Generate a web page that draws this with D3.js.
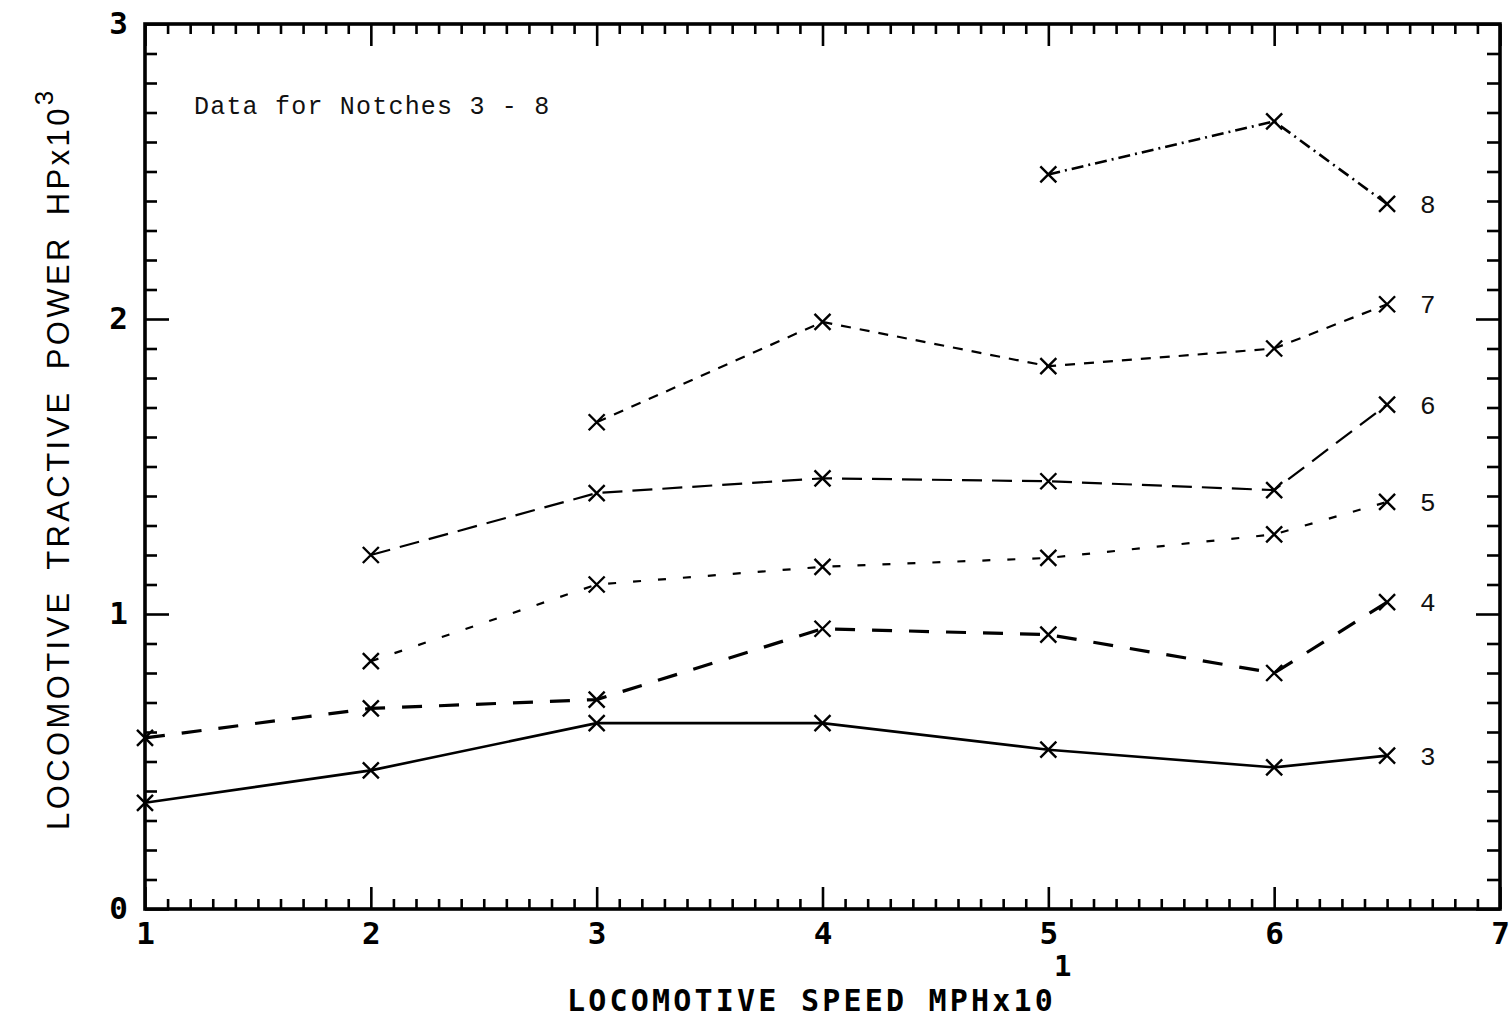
<!DOCTYPE html>
<html>
<head>
<meta charset="utf-8">
<script src="https://cdn.jsdelivr.net/npm/d3@7.9.0/dist/d3.min.js"></script>
<style>
  body { margin: 0; background: #fff; }
  svg { display: block; }
  .plotter { font-family: "DejaVu Sans Mono", monospace; font-weight: bold; fill: #000; }
  .typed { font-family: "Liberation Mono", "Courier New", monospace; fill: #111; }
</style>
</head>
<body>
<svg id="chart" width="1512" height="1021"></svg>
<script>
// speed (MPH x 10) where readings were taken
const speedsFull = [1, 2, 3, 4, 5, 6, 6.5];

// tractive power (HP x 10^3) per notch
const notch3 = [0.36, 0.47, 0.63, 0.63, 0.54, 0.48, 0.52];
const notch4 = [0.58, 0.68, 0.71, 0.95, 0.93, 0.80, 1.04];
const notch5 = [null, 0.84, 1.10, 1.16, 1.19, 1.27, 1.38];
const notch6 = [null, 1.20, 1.41, 1.46, 1.45, 1.42, 1.71];
const notch7 = [null, null, 1.65, 1.99, 1.84, 1.90, 2.05];
const notch8 = [null, null, null, null, 2.49, 2.67, 2.39];

const notchNames = ["3", "4", "5", "6", "7", "8"];
const xTickLabels = [1, 2, 3, 4, 5, 6, 7];
const yTickLabels = [0, 1, 2, 3];

const series = [
  { name: notchNames[0], values: notch3, dash: null, width: 2.6 },
  { name: notchNames[1], values: notch4, dash: "20 17", width: 3.2 },
  { name: notchNames[2], values: notch5, dash: "8 17", width: 2.2 },
  { name: notchNames[3], values: notch6, dash: "20 10", width: 2.2 },
  { name: notchNames[4], values: notch7, dash: "10 9", width: 2.2 },
  { name: notchNames[5], values: notch8, dash: "12 5 2 5", width: 2.6 }
];

const svg = d3.select("#chart");

const x = d3.scaleLinear().domain([1, 7]).range([145, 1500]);
const y = d3.scaleLinear().domain([0, 3]).range([909, 24]);

const xMinor = d3.range(10, 71).map(d => d / 10).filter(d => d % 1 !== 0);
const yMinor = d3.range(1, 30).map(d => d / 10).filter(d => d % 1 !== 0);

function styleAxis(g) {
  g.select(".domain").remove();
  g.selectAll(".tick line").attr("stroke", "#000").attr("stroke-width", 2.6);
}

// bottom axis: ticks pointing up, labels below
svg.append("g").attr("transform", `translate(0,${y(0)})`)
  .call(d3.axisBottom(x).tickValues(xMinor).tickSize(-10).tickFormat(""))
  .call(styleAxis);
svg.append("g").attr("transform", `translate(0,${y(0)})`)
  .call(d3.axisBottom(x).tickValues(xTickLabels).tickSize(-22).tickPadding(13).tickFormat(d3.format("d")))
  .call(styleAxis)
  .call(g => g.selectAll("text").attr("class", "plotter").attr("font-size", 31));

// top axis: ticks pointing down, no labels
svg.append("g").attr("transform", `translate(0,${y(3)})`)
  .call(d3.axisTop(x).tickValues(xMinor).tickSize(-10).tickFormat(""))
  .call(styleAxis);
svg.append("g").attr("transform", `translate(0,${y(3)})`)
  .call(d3.axisTop(x).tickValues(xTickLabels).tickSize(-22).tickFormat(""))
  .call(styleAxis);

// left axis
svg.append("g").attr("transform", `translate(${x(1)},0)`)
  .call(d3.axisLeft(y).tickValues(yMinor).tickSize(-12).tickFormat(""))
  .call(styleAxis);
svg.append("g").attr("transform", `translate(${x(1)},0)`)
  .call(d3.axisLeft(y).tickValues(yTickLabels).tickSize(-24).tickPadding(17).tickFormat(d3.format("d")))
  .call(styleAxis)
  .call(g => g.selectAll("text").attr("class", "plotter").attr("font-size", 31));

// right axis
svg.append("g").attr("transform", `translate(${x(7)},0)`)
  .call(d3.axisRight(y).tickValues(yMinor).tickSize(-13).tickFormat(""))
  .call(styleAxis);
svg.append("g").attr("transform", `translate(${x(7)},0)`)
  .call(d3.axisRight(y).tickValues(yTickLabels).tickSize(-24).tickFormat(""))
  .call(styleAxis);

// frame
svg.append("rect")
  .attr("x", x(1)).attr("y", y(3))
  .attr("width", x(7) - x(1)).attr("height", y(0) - y(3))
  .attr("fill", "none").attr("stroke", "#000").attr("stroke-width", 3.6);

// lines
const line = d3.line()
  .defined(d => d.v != null)
  .x(d => x(d.s))
  .y(d => y(d.v));

const groups = svg.append("g").selectAll("g")
  .data(series)
  .join("g");

groups.append("path")
  .attr("d", s => line(s.values.map((v, i) => ({ s: speedsFull[i], v }))))
  .attr("fill", "none")
  .attr("stroke", "#000")
  .attr("stroke-width", s => s.width)
  .attr("stroke-dasharray", s => s.dash);

// X markers
const cross = 8;
groups.selectAll("path.mark")
  .data(s => s.values.map((v, i) => ({ s: speedsFull[i], v })).filter(d => d.v != null))
  .join("path")
  .attr("class", "mark")
  .attr("d", d => {
    const cx = x(d.s), cy = y(d.v);
    return `M${cx - cross},${cy - cross}L${cx + cross},${cy + cross}M${cx - cross},${cy + cross}L${cx + cross},${cy - cross}`;
  })
  .attr("stroke", "#000")
  .attr("stroke-width", 2.4)
  .attr("fill", "none");

// notch labels at the right end
groups.append("text")
  .attr("class", "typed")
  .attr("x", s => x(speedsFull[speedsFull.length - 1]) + 33)
  .attr("y", s => y(s.values[s.values.length - 1]))
  .attr("dy", "0.35em")
  .attr("font-size", 26)
  .text(s => s.name);

// note
svg.append("text")
  .attr("class", "typed")
  .attr("x", 194).attr("y", 114)
  .attr("font-size", 25)
  .attr("letter-spacing", 1.2)
  .text("Data for Notches 3 - 8");

// x axis title
svg.append("text")
  .attr("class", "plotter")
  .attr("x", 567).attr("y", 1011)
  .attr("font-size", 30)
  .attr("letter-spacing", 3.2)
  .text("LOCOMOTIVE SPEED MPHx10");
svg.append("text")
  .attr("class", "plotter")
  .attr("x", 1054).attr("y", 976)
  .attr("font-size", 29)
  .text("1");

// y axis title
const yt = svg.append("text")
  .attr("transform", "translate(69,830) rotate(-90)")
  .attr("font-family", "'Liberation Sans', Arial, sans-serif")
  .attr("font-size", 31)
  .attr("letter-spacing", 3.4)
  .attr("word-spacing", 8)
  .attr("fill", "#000");
yt.append("tspan").text("LOCOMOTIVE TRACTIVE POWER  HPx10");
yt.append("tspan").attr("dy", -16).attr("font-size", 26).text("3");
</script>
</body>
</html>
